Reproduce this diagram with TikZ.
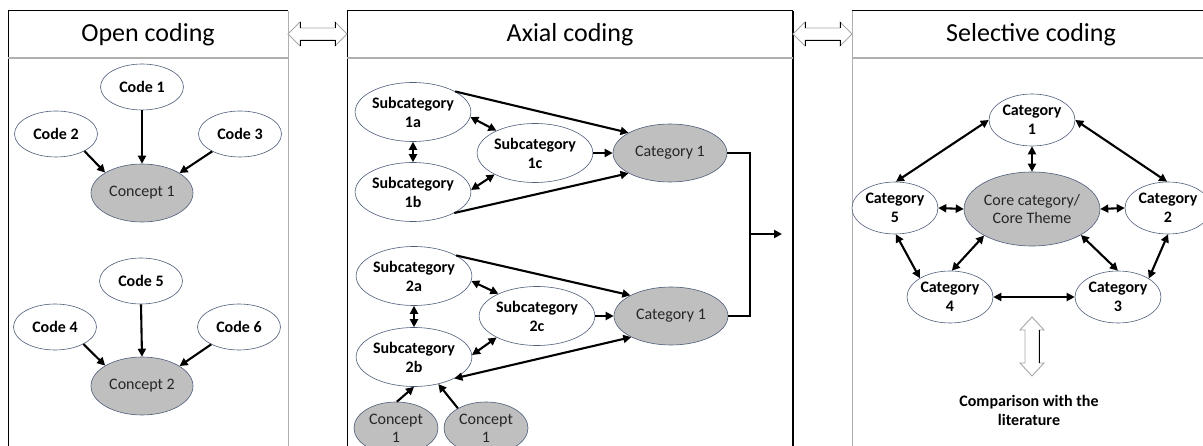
\documentclass[tikz,border=0pt]{standalone}
\usepackage{fontspec}
\setmainfont{Carlito}
\usetikzlibrary{arrows.meta,shapes.geometric}

\definecolor{rim}{HTML}{4F5E7A}
\definecolor{shade}{HTML}{BFBFBF}
\definecolor{framegray}{HTML}{B0B0B0}
\definecolor{blockgray}{HTML}{A8A8A8}

\begin{document}
\begin{tikzpicture}[x=1pt,y=-1pt,
  >={Triangle[length=8pt,width=8pt]},
  lbl/.style={font=\fontsize{16}{19}\selectfont\bfseries, align=center},
  codebox/.style={ellipse, draw=rim, line width=0.6pt, fill=white, inner sep=0pt, lbl},
  greybox/.style={ellipse, draw=rim, line width=0.6pt, fill=shade, inner sep=0pt,
    font=\fontsize{16}{19}\selectfont, text=black!85, align=center},
  small/.style={minimum width=83pt, minimum height=46pt},
  sub/.style={minimum width=112pt, minimum height=59pt},
  cat/.style={minimum width=86pt, minimum height=52pt},
  head/.style={font=\fontsize{26}{28}\selectfont},
  link/.style={line width=2.1pt, ->},
  both/.style={line width=2.1pt, <->},
  block/.style={draw=blockgray, line width=0.9pt, fill=white, line join=miter},
  blockdark/.style={draw=black, line width=0.9pt},
]
\useasboundingbox (0,0) rectangle (1203,446);
\clip (0,0) rectangle (1203,446);
\fill[white] (0,0) rectangle (1203,446);

% ---------- panel frames ----------
\draw[framegray, line width=1pt] (288,11) -- (288,450);
\draw[black, line width=1pt] (8,450) -- (8,11) -- (288,11);
\draw[framegray, line width=1.4pt] (8,58) -- (288,58);

\draw[black, line width=1pt] (347,450) -- (347,11) -- (793,11);
\draw[black, line width=1.4pt] (793,11) -- (793,450);
\draw[framegray, line width=1.4pt] (347,58) -- (793,58);

\draw[framegray, line width=1pt] (852,450) -- (852,11);
\draw[black, line width=1pt] (852,11) -- (1210,11);
\draw[framegray, line width=1.4pt] (852,58) -- (1210,58);

\node[head] (hopen) at (148,35) {Open coding};
\node[head] (haxial) at (570,35) {Axial coding};
\node[head] (hsel) at (1031,35) {Selective coding};

% ---------- block arrows between the panels ----------
\foreach \xa/\xb in {288/347, 793/852}{
  \draw[block] (\xa,34) -- (\xa+12,22) -- (\xa+12,28) -- (\xb-12,28) -- (\xb-12,22)
    -- (\xb,34) -- (\xb-12,46) -- (\xb-12,40) -- (\xa+12,40) -- (\xa+12,46) -- cycle;
  \draw[blockdark] (\xa+12,46) -- (\xa+12,40) -- (\xb-12,40) -- (\xb-12,46);
  \draw[blockdark] (\xa+12,22) -- (\xa+12,28);
  \draw[blockdark] (\xb-12,22) -- (\xb-12,28);
}

% ---------- open coding ----------
\node[codebox, small] (c1) at (142,87) {Code 1};
\node[codebox, small] (c2) at (56,134) {Code 2};
\node[codebox, small] (c3) at (240,134) {Code 3};
\node[greybox, minimum width=102pt, minimum height=58pt] (k1) at (142,193) {Concept 1};

\node[codebox, small] (c5) at (141,281) {Code 5};
\node[codebox, small] (c4) at (55,327) {Code 4};
\node[codebox, small] (c6) at (239,327) {Code 6};
\node[greybox, minimum width=102pt, minimum height=58pt] (k2) at (142,386) {Concept 2};

\draw[link] (c1.south) -- (k1.north);
\draw[link] (c2.-31) -- (k1.151);
\draw[link] (c3.212) -- (k1.28);
\draw[link] (c5.south) -- (k2.north);
\draw[link] (c4.-31) -- (k2.151);
\draw[link] (c6.212) -- (k2.28);

% ---------- axial coding ----------
\node[codebox, sub] (s1a) at (413,112) {Subcategory\\1a};
\node[codebox, sub] (s1b) at (413,192) {Subcategory\\1b};
\node[codebox, sub] (s1c) at (535,153) {Subcategory\\1c};
\node[greybox, minimum width=114pt, minimum height=58pt] (g1) at (670,153) {Category 1};

\node[codebox, sub] (s2a) at (414,276) {Subcategory\\2a};
\node[codebox, sub] (s2b) at (414,357) {Subcategory\\2b};
\node[codebox, sub] (s2c) at (537,316) {Subcategory\\2c};
\node[greybox, minimum width=114pt, minimum height=58pt] (g2) at (671,316) {Category 1};

\node[greybox, minimum width=84pt, minimum height=52pt,
      font=\fontsize{16}{18}\selectfont] (p1) at (396,428) {Concept\\1};
\node[greybox, minimum width=84pt, minimum height=52pt,
      font=\fontsize{16}{18}\selectfont] (p2) at (486,428) {Concept\\1};

\draw[link] (s1a.26) -- (g1.154);
\draw[link] (s1b.-27) -- (g1.206);
\draw[link] (s1c.east) -- (g1.west);
\draw[both] (s1a.-5) -- (s1c.150);
\draw[both] (s1a.south) -- (s1b.north);
\draw[both] (s1b.2) -- (s1c.208);

\draw[link] (s2a.26) -- (g2.153);
\draw[both] (s2b.-28) -- (g2.208);
\draw[link] (s2c.east) -- (g2.west);
\draw[both] (s2a.-5) -- (s2c.150);
\draw[both] (s2a.south) -- (s2b.north);
\draw[both] (s2b.2) -- (s2c.208);

\draw[link] (p1.88) -- (s2b.south);
\draw[link] (p2.145) -- (s2b.-48);

\coordinate (join) at (750,234);
\coordinate (onward) at (782,234);
\draw[line width=2.1pt] (g1.east) -| (join) |- (g2.east);
\draw[link] (join) -- (onward);

% ---------- selective coding ----------
\node[codebox, cat] (t1) at (1032,120) {Category\\1};
\node[codebox, cat] (t5) at (895,208) {Category\\5};
\node[codebox, cat] (t2) at (1168,208) {Category\\2};
\node[codebox, cat] (t4) at (950,297) {Category\\4};
\node[codebox, cat] (t3) at (1118,297) {Category\\3};
\node[greybox, minimum width=136pt, minimum height=74pt,
      font=\fontsize{16}{18}\selectfont] (core) at (1032,209) {Core category/\\Core Theme};

\draw[both] (t1.west) -- (t5.88);
\draw[both] (t1.east) -- (t2.92);
\draw[both] (t1.south) -- (core.north);
\draw[both] (t5.east) -- (core.west);
\draw[both] (core.east) -- (t2.west);
\draw[both] (t5.-88) -- (t4.148);
\draw[both] (core.209) -- (t4.86);
\draw[both] (core.-28) -- (t3.north);
\draw[both] (t2.south) -- (t3.31);
\draw[both] (t4.east) -- (t3.west);

% vertical block arrow and note
\draw[block] (1032,317) -- (1044,330) -- (1039,330) -- (1039,363) -- (1044,363)
  -- (1032,376) -- (1020,363) -- (1025,363) -- (1025,330) -- (1020,330) -- cycle;
\draw[blockdark] (1039,330) -- (1039,363);

\node[lbl] (lit) at (1029,410) {Comparison with the\\literature};
\end{tikzpicture}
\end{document}
